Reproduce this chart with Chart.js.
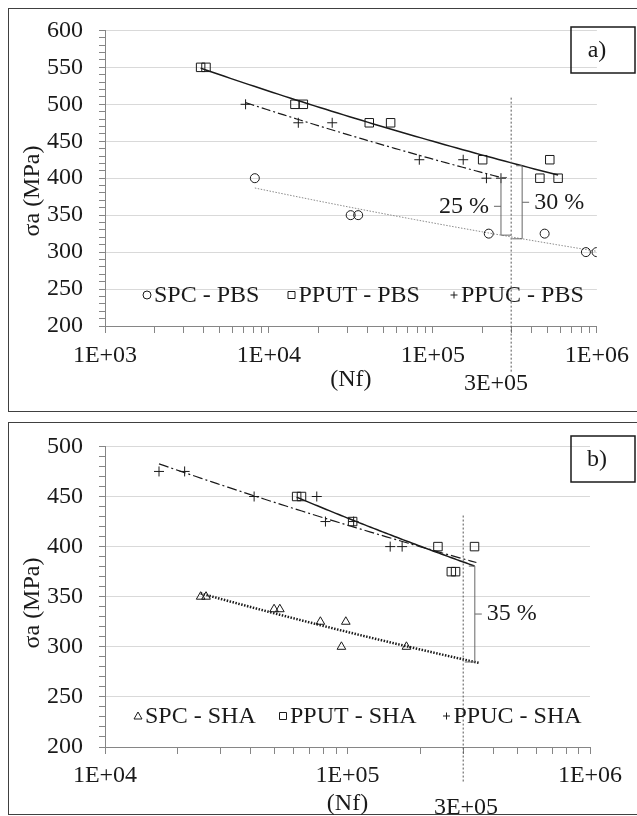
<!DOCTYPE html>
<html>
<head>
<meta charset="utf-8">
<script src="https://cdn.jsdelivr.net/npm/chart.js@4.4.1/dist/chart.umd.min.js"></script>
<style>
  body { margin: 0; background: #fff; }
  .frame { position: absolute; left: 8px; width: 640px; border: 1.5px solid #404040; box-sizing: border-box; }
  canvas { position: absolute; left: 0; }
</style>
</head>
<body>
<div class="frame" style="top:8px;height:404px"></div>
<div class="frame" style="top:422px;height:393px"></div>
<canvas id="chartA" width="637" height="416" style="top:0"></canvas>
<canvas id="chartB" width="637" height="400" style="top:416px"></canvas>
<script>
const FONT = '"Liberation Serif", "Times New Roman", serif';
const INK = '#1a1a1a';
const AXIS = '#868686';
const GRID = '#d9d9d9';

// a) PBS : cycles to failure (Nf) and stress amplitude (MPa)
const spcPbsN = [8200, 31500, 35000, 219000, 480000, 857000, 995000];
const spcPbsS = [400, 350, 350, 325, 325, 300, 300];
const pputPbsN = [3830, 4130, 14400, 16200, 40900, 55200, 201000, 449000, 516000, 580000];
const pputPbsS = [550, 550, 500, 500, 475, 475, 425, 400, 425, 400];
const ppucPbsN = [7200, 15100, 24300, 82600, 153000, 212000, 260000];
const ppucPbsS = [500, 475, 475, 425, 425, 400, 400];

// b) SHA
const spcShaN = [24800, 26100, 49800, 52600, 77300, 94400, 98400, 175000];
const spcShaS = [350, 350, 337.5, 337.5, 325, 300, 325, 300];
const pputShaN = [61700, 64600, 105000, 236000, 268000, 279000, 334000];
const pputShaS = [450, 450, 425, 400, 375, 375, 400];
const ppucShaN = [16700, 21300, 41200, 74700, 81100, 106000, 150000, 168000];
const ppucShaS = [475, 475, 450, 450, 425, 425, 400, 400];

// trendlines in b) are forecast forward to these lives
const spcShaTrendEnd = 350000;
const ppucShaTrendEnd = 340000;

// reference life and the gap brackets
const refLife = 3e5;
const gapPbsN = [260000, 350000];
const gapPbsText = ['25 %', '30 %'];
const gapShaN = [335000];
const gapShaText = ['35 %'];

// least squares power law, like an Excel "power" trendline
function powerFit(ns, ss) {
    const xs = ns.map(Math.log);
    const ys = ss.map(Math.log);
    const mx = xs.reduce((a, b) => a + b) / xs.length;
    const my = ys.reduce((a, b) => a + b) / ys.length;
    let sxy = 0, sxx = 0;
    xs.forEach((x, i) => { sxy += (x - mx) * (ys[i] - my); sxx += (x - mx) * (x - mx); });
    const b = sxy / sxx, a = my - b * mx;
    return n => Math.exp(a + b * Math.log(n));
}

function trendPoints(fit, from, to) {
    const pts = [];
    for (let i = 0; i <= 60; i++) {
        const n = from * Math.pow(to / from, i / 60);
        pts.push({ x: n, y: fit(n) });
    }
    return pts;
}

function marks(label, ns, ss, style, radius) {
    return {
        label: label,
        data: ns.map((n, i) => ({ x: n, y: ss[i] })),
        pointStyle: style,
        pointRadius: radius,
        pointBorderColor: INK,
        pointBackgroundColor: 'rgba(0,0,0,0)',
        pointBorderWidth: 1,
        showLine: false
    };
}

function trend(fit, from, to, dash, width, color) {
    return {
        data: trendPoints(fit, from, to),
        showLine: true,
        pointRadius: 0,
        borderColor: color,
        borderWidth: width,
        borderDash: dash,
        fill: false
    };
}

function drawMarker(ctx, style, x, y) {
    ctx.beginPath();
    if (style === 'circle') {
        ctx.arc(x, y, 4, 0, Math.PI * 2);
    } else if (style === 'rect') {
        ctx.rect(x - 3.5, y - 3.5, 7, 7);
    } else if (style === 'triangle') {
        ctx.moveTo(x, y - 4); ctx.lineTo(x + 4, y + 3); ctx.lineTo(x - 4, y + 3); ctx.closePath();
    } else {
        ctx.moveTo(x - 3.5, y); ctx.lineTo(x + 3.5, y);
        ctx.moveTo(x, y - 3.5); ctx.lineTo(x, y + 3.5);
    }
    ctx.stroke();
}

// everything Excel drew by hand on top of the plot
function decor(spec) {
    return {
        id: 'decor',
        afterDraw(chart) {
            const { ctx, chartArea } = chart;
            const x = chart.scales.x, y = chart.scales.y;
            ctx.save();

            // 3E+05 reference line
            const rx = x.getPixelForValue(refLife);
            ctx.strokeStyle = '#555';
            ctx.lineWidth = 1;
            ctx.setLineDash([2, 2]);
            ctx.beginPath();
            ctx.moveTo(rx, y.getPixelForValue(spec.refTop));
            ctx.lineTo(rx, chartArea.bottom + spec.refDrop);
            ctx.stroke();
            ctx.setLineDash([]);

            ctx.fillStyle = INK;
            ctx.font = '24px ' + FONT;
            ctx.textBaseline = 'middle';
            ctx.textAlign = 'center';
            ctx.fillText('3E+05', spec.refLabel[0], spec.refLabel[1]);

            // y title
            ctx.save();
            ctx.translate(33, spec.yTitleY);
            ctx.rotate(-Math.PI / 2);
            ctx.fillText('σa (MPa)', 0, 0);
            ctx.restore();

            // panel tag
            ctx.strokeStyle = INK;
            ctx.lineWidth = 1.5;
            ctx.strokeRect(571, spec.tagTop, 64, 46);
            ctx.fillText(spec.tag, 597, spec.tagTop + 24);

            // legend
            ctx.textAlign = 'left';
            ctx.lineWidth = 1;
            spec.legend.forEach(item => {
                drawMarker(ctx, item.style, item.x, spec.legendY);
                ctx.fillText(chart.data.datasets[item.ds].label, item.x + 7, spec.legendY + 1);
            });

            // gap brackets between the trendlines
            ctx.strokeStyle = '#666';
            spec.brackets.forEach(b => {
                const bx = x.getPixelForValue(b.n);
                const top = y.getPixelForValue(b.top(b.n));
                const bot = y.getPixelForValue(b.bottom(b.n));
                const mid = (top + bot) / 2;
                ctx.beginPath();
                ctx.moveTo(bx + b.cap * 6, top);
                ctx.lineTo(bx, top);
                ctx.lineTo(bx, bot);
                ctx.lineTo(bx + b.cap * 10, bot);
                ctx.moveTo(bx, mid);
                ctx.lineTo(bx - b.cap * 7, mid);
                ctx.stroke();
                ctx.textAlign = b.cap > 0 ? 'right' : 'left';
                ctx.fillText(b.text, bx - b.cap * 12, mid);
            });
            ctx.restore();
        }
    };
}

function logAxis(lo, hi, tickPad, titlePad, height) {
    return {
        type: 'logarithmic',
        min: Math.pow(10, lo),
        max: Math.pow(10, hi),
        afterBuildTicks: s => {
            const t = [];
            for (let e = lo; e < hi; e++) {
                for (let m = 1; m < 10; m++) t.push({ value: m * Math.pow(10, e) });
            }
            t.push({ value: Math.pow(10, hi) });
            s.ticks = t;
        },
        afterFit: s => { s.height = height; },
        ticks: {
            autoSkip: false,
            maxRotation: 0,
            padding: tickPad,
            color: INK,
            font: { family: FONT, size: 24 },
            callback: v => {
                const e = Math.round(Math.log10(v));
                return Math.abs(v - Math.pow(10, e)) < 1e-6 ? '1E+' + String(e).padStart(2, '0') : '';
            }
        },
        grid: { drawOnChartArea: false, tickLength: 7, color: AXIS },
        border: { color: AXIS },
        title: {
            display: true,
            text: '(Nf)',
            color: INK,
            font: { family: FONT, size: 24, lineHeight: 1 },
            padding: { top: 0, bottom: titlePad }
        }
    };
}

function stressAxis(min, max) {
    return {
        min: min,
        max: max,
        afterFit: s => { s.width = 105; },
        ticks: {
            stepSize: 10,
            autoSkip: false,
            padding: 16,
            color: INK,
            font: { family: FONT, size: 24 },
            callback: v => (v % 50 === 0 ? v : '')
        },
        grid: {
            color: c => (c.tick && c.tick.value % 50 === 0 ? GRID : 'rgba(0,0,0,0)'),
            tickColor: AXIS,
            tickLength: 6
        },
        border: { color: AXIS }
    };
}

const spcPbsFit = powerFit(spcPbsN, spcPbsS);
const pputPbsFit = powerFit(pputPbsN, pputPbsS);
const ppucPbsFit = powerFit(ppucPbsN, ppucPbsS);

new Chart(document.getElementById('chartA'), {
    type: 'scatter',
    data: {
        datasets: [
            marks('SPC - PBS', spcPbsN, spcPbsS, 'circle', 4.5),
            marks('PPUT - PBS', pputPbsN, pputPbsS, 'rect', 6),
            marks('PPUC - PBS', ppucPbsN, ppucPbsS, 'cross', 5),
            trend(spcPbsFit, Math.min(...spcPbsN), Math.max(...spcPbsN), [1.5, 1.5], 1, '#8a8a8a'),
            trend(pputPbsFit, Math.min(...pputPbsN), Math.max(...pputPbsN), [], 1.5, INK),
            trend(ppucPbsFit, Math.min(...ppucPbsN), Math.max(...ppucPbsN), [9, 3, 2, 3], 1.2, INK)
        ]
    },
    options: {
        responsive: false,
        animation: false,
        events: [],
        layout: { padding: { left: 0, top: 27, right: 40, bottom: 0 } },
        plugins: { legend: { display: false }, tooltip: { enabled: false } },
        scales: {
            x: logAxis(3, 6, 8, 24, 90),
            y: stressAxis(200, 600)
        }
    },
    plugins: [decor({
        refTop: 509, refDrop: 47, refLabel: [496, 384],
        yTitleY: 191, tag: 'a)', tagTop: 27,
        legendY: 295,
        legend: [
            { ds: 0, style: 'circle', x: 147 },
            { ds: 1, style: 'rect', x: 291.5 },
            { ds: 2, style: 'cross', x: 454 }
        ],
        brackets: [
            { n: gapPbsN[0], top: ppucPbsFit, bottom: spcPbsFit, cap: 1, text: gapPbsText[0] },
            { n: gapPbsN[1], top: pputPbsFit, bottom: spcPbsFit, cap: -1, text: gapPbsText[1] }
        ]
    })]
});

const spcShaFit = powerFit(spcShaN, spcShaS);
const pputShaFit = powerFit(pputShaN, pputShaS);
const ppucShaFit = powerFit(ppucShaN, ppucShaS);

new Chart(document.getElementById('chartB'), {
    type: 'scatter',
    data: {
        datasets: [
            marks('SPC - SHA', spcShaN, spcShaS, 'triangle', 5),
            marks('PPUT - SHA', pputShaN, pputShaS, 'rect', 6),
            marks('PPUC - SHA', ppucShaN, ppucShaS, 'cross', 5),
            trend(spcShaFit, Math.min(...spcShaN), spcShaTrendEnd, [1.5, 1.5], 2.5, INK),
            trend(pputShaFit, Math.min(...pputShaN), Math.max(...pputShaN), [], 1.5, INK),
            trend(ppucShaFit, Math.min(...ppucShaN), ppucShaTrendEnd, [10, 3, 2, 3], 1.2, INK)
        ]
    },
    options: {
        responsive: false,
        animation: false,
        events: [],
        layout: { padding: { left: 0, top: 19, right: 47, bottom: 0 } },
        plugins: { legend: { display: false }, tooltip: { enabled: false } },
        scales: {
            x: logAxis(4, 6, 7, 0, 69),
            y: stressAxis(200, 500)
        }
    },
    plugins: [decor({
        refTop: 431, refDrop: 36, refLabel: [466, 392],
        yTitleY: 187, tag: 'b)', tagTop: 20,
        legendY: 300,
        legend: [
            { ds: 0, style: 'triangle', x: 138 },
            { ds: 1, style: 'rect', x: 283 },
            { ds: 2, style: 'cross', x: 446.5 }
        ],
        brackets: [
            { n: gapShaN[0], top: pputShaFit, bottom: spcShaFit, cap: -1, text: gapShaText[0] }
        ]
    })]
});
</script>
</body>
</html>
